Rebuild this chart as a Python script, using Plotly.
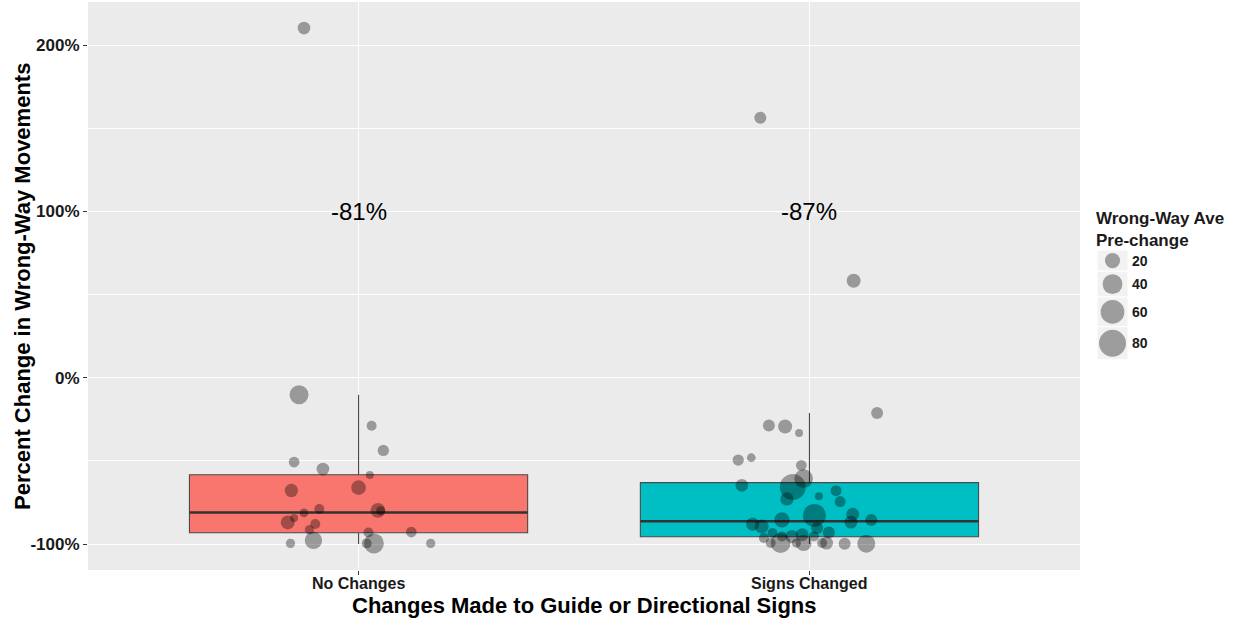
import numpy as np
import plotly.graph_objects as go

W, H = 1238, 620

# ---------------- data ----------------
categories = ["No Changes", "Signs Changed"]
box_q1 = [-93.2, -95.6]
box_median = [-81.0, -86.3]
box_q3 = [-58.3, -63.1]
box_lower = [-100.0, -100.0]
box_upper = [-10.2, -21.2]
label_text = ["-81%", "-87%"]
label_y = [100, 100]

# "No Changes" points: jitter offset, % change, wrong-way ave pre-change
nc_jitter = [-0.132, 0.029, 0.055, -0.143, -0.079, 0.025, -0.149, 0.000, -0.087, -0.121,
             0.043, 0.049, -0.157, -0.143, -0.096, -0.109, 0.022, 0.117, -0.151, -0.100,
             0.018, 0.034, 0.160, -0.121]
nc_change = [-10.2, -28.9, -43.7, -50.7, -54.9, -58.5, -67.8, -66.1, -78.9, -81.3,
             -79.8, -80.0, -87.0, -84.3, -88.0, -91.4, -93.0, -92.8, -99.6, -97.8,
             -99.6, -99.6, -99.6, 210.2]
nc_pre = [35.8, 4.3, 7.7, 6.1, 11.7, 0.0, 13.6, 18.3, 4.3, 1.4,
          18.3, 2.3, 15.9, 0.0, 4.3, 2.7, 4.3, 6.1, 2.7, 28.3,
          4.3, 40.5, 2.7, 11.7]

# "Signs Changed" points
sc_jitter = [-0.090, -0.054, -0.023, -0.158, -0.129, -0.018, -0.150, -0.037, -0.013, -0.050,
             -0.061, -0.126, -0.106, 0.011, -0.082, -0.061, -0.101, -0.016, 0.043, -0.064,
             -0.086, -0.029, -0.013, 0.028, 0.038, 0.078, 0.126, 0.021, 0.059, 0.068,
             0.096, 0.092, 0.137, 0.010, 0.017, 0.150, -0.109, 0.098, -0.039]
sc_change = [-28.7, -29.3, -33.2, -49.5, -48.1, -52.7, -64.7, -65.7, -60.7, -72.9,
             -85.5, -88.0, -89.4, -82.8, -93.4, -95.4, -96.4, -94.4, -93.0, -99.4,
             -99.4, -99.4, -99.4, -99.4, -99.4, -99.8, -99.8, -71.3, -67.9, -74.5,
             -82.1, -86.8, -85.6, -95.4, -90.4, -21.2, 156.3, 58.3, -95.4]
sc_pre = [9.6, 15.9, 0.0, 7.7, 1.4, 6.1, 11.7, 73.7, 34.4, 13.6,
          20.5, 13.6, 15.9, 56.0, 4.3, 4.3, 4.3, 12.6, 9.6, 40.5,
          4.3, 2.5, 23.1, 4.3, 12.6, 9.6, 31.3, 0.0, 6.9, 6.9,
          12.6, 12.6, 9.6, 4.3, 9.6, 9.6, 9.6, 15.9, 12.6]

legend_values = [20, 40, 60, 80]
legend_labels = ["20", "40", "60", "80"]
y_tickvals = [-100, 0, 100, 200]
y_ticktext = ["-100%", "0%", "100%", "200%"]
y_minor = [-50, 50, 150]

# ---------------- style ----------------
FONT = "Liberation Sans, Arial, sans-serif"
fills = ["#F8766D", "#00BFC4"]
PT_COLOR = "rgba(0,0,0,0.5)"
BOX_W = 0.75

PL, PR, PTOP, PBOT = 88, 1080, 2, 570   # panel pixel edges
Y_RANGE = [-115.6, 225.85]
X_RANGE = [-0.6, 1.6]


def px_x(p):
    return p / W


def px_y(p):
    return 1 - p / H


def dia(v):
    return np.sqrt(64 + 8.3 * np.asarray(v, dtype=float))


fig = go.Figure()

# boxes
for i, cat in enumerate(categories):
    fig.add_trace(go.Box(
        x=[i], q1=[box_q1[i]], median=[box_median[i]], q3=[box_q3[i]],
        lowerfence=[box_lower[i]], upperfence=[box_upper[i]],
        width=BOX_W, whiskerwidth=0, boxpoints=False,
        fillcolor=fills[i], line=dict(color="#4a4a4a", width=1.1),
        showlegend=False, hoverinfo="skip",
    ))
    fig.add_trace(go.Scatter(
        x=[i - BOX_W / 2, i + BOX_W / 2], y=[box_median[i], box_median[i]],
        mode="lines", line=dict(color="#333333", width=2.6),
        showlegend=False, hoverinfo="skip",
    ))

# jittered points
for i, (jit, chg, pre) in enumerate([(nc_jitter, nc_change, nc_pre),
                                     (sc_jitter, sc_change, sc_pre)]):
    fig.add_trace(go.Scatter(
        x=i + np.asarray(jit), y=chg, mode="markers",
        marker=dict(size=dia(pre), color=PT_COLOR, line=dict(width=0)),
        showlegend=False, hoverinfo="skip",
    ))

# median labels
for i, t in enumerate(label_text):
    fig.add_annotation(x=i, y=label_y[i], xref="x", yref="y", text=t, showarrow=False,
                       font=dict(family=FONT, size=24, color="black"))

# category tick labels (placed close to the ticks, as in the reference)
for i, cat in enumerate(categories):
    fig.add_annotation(x=i, y=px_y(583), xref="x", yref="paper", text=cat, showarrow=False,
                       xanchor="center", yanchor="middle",
                       font=dict(family=FONT, size=16, color="#1a1a1a", weight="bold"))

# panel background
fig.add_shape(type="rect", xref="x domain", yref="y domain", x0=0, x1=1, y0=0, y1=1,
              fillcolor="#EBEBEB", line=dict(width=0), layer="below")

# ---------------- size legend (drawn on a small second axis pair) ----------------
key_h = [max(d + 6, 21) for d in dia(legend_values)]
key_top = np.concatenate([[0], np.cumsum(key_h)[:-1]])
key_ctr = key_top + np.asarray(key_h) / 2
LEG_TOP, LEG_X0, LEG_X1 = 250, 1097, 1128
leg_total = float(np.sum(key_h))

fig.add_trace(go.Scatter(
    x=[(LEG_X1 - LEG_X0) / 2] * len(legend_values), y=key_ctr, mode="markers",
    marker=dict(size=dia(legend_values), color=PT_COLOR, line=dict(width=0)),
    xaxis="x2", yaxis="y2", showlegend=False, hoverinfo="skip",
))
for k in range(len(legend_values)):
    fig.add_shape(type="rect", xref="x2", yref="y2", x0=0, x1=LEG_X1 - LEG_X0,
                  y0=key_top[k], y1=key_top[k] + key_h[k],
                  fillcolor="#F2F2F2", line=dict(color="white", width=1), layer="below")
    fig.add_annotation(x=px_x(LEG_X1 + 2), y=px_y(LEG_TOP + key_ctr[k]), xref="paper", yref="paper",
                       text=legend_labels[k], showarrow=False, xanchor="left", yanchor="middle",
                       font=dict(family=FONT, size=14, color="#1a1a1a", weight="bold"))

fig.add_annotation(x=px_x(1094), y=px_y(207), xref="paper", yref="paper",
                   text="Wrong-Way Ave<br>Pre-change", showarrow=False, align="left",
                   xanchor="left", yanchor="top",
                   font=dict(family=FONT, size=17, color="#1a1a1a", weight="bold"))

# axis titles
fig.add_annotation(x=px_x((PL + PR) / 2), y=px_y(605), xref="paper", yref="paper",
                   text="Changes Made to Guide or Directional Signs", showarrow=False,
                   xanchor="center", yanchor="middle",
                   font=dict(family=FONT, size=22, color="black", weight="bold"))
fig.add_annotation(x=px_x(22), y=px_y(287), xref="paper", yref="paper",
                   text="Percent Change in Wrong-Way Movements", showarrow=False, textangle=-90,
                   xanchor="center", yanchor="middle",
                   font=dict(family=FONT, size=22, color="black", weight="bold"))

fig.update_layout(
    width=W, height=H,
    margin=dict(l=0, r=0, t=0, b=0),
    paper_bgcolor="white", plot_bgcolor="white",
    showlegend=False,
    xaxis=dict(
        domain=[px_x(PL), px_x(PR)], range=X_RANGE,
        tickvals=list(range(len(categories))), ticktext=categories, showticklabels=False,
        showgrid=True, gridcolor="white", gridwidth=1.2, zeroline=False,
        ticks="outside", ticklen=4, tickcolor="#333333", showline=False,
        automargin=False, fixedrange=True,
    ),
    yaxis=dict(
        domain=[px_y(PBOT), px_y(PTOP)], range=Y_RANGE,
        tickvals=y_tickvals, ticktext=y_ticktext,
        showgrid=True, gridcolor="white", gridwidth=1.2, zeroline=False,
        ticks="outside", ticklen=4, tickcolor="#333333", showline=False,
        tickfont=dict(family=FONT, size=17, color="#1a1a1a", weight="bold"),
        minor=dict(tickvals=y_minor, showgrid=True, gridcolor="white", gridwidth=0.6, ticks=""),
        automargin=False, fixedrange=True,
    ),
    xaxis2=dict(domain=[px_x(LEG_X0), px_x(LEG_X1)], range=[0, LEG_X1 - LEG_X0],
                visible=False, fixedrange=True, anchor="y2"),
    yaxis2=dict(domain=[px_y(LEG_TOP + leg_total), px_y(LEG_TOP)], range=[leg_total, 0],
                visible=False, fixedrange=True, anchor="x2"),
)

fig.write_html("out.html", config={"displayModeBar": False},
               post_script="document.body.style.margin='0px';document.body.style.overflow='hidden';")
